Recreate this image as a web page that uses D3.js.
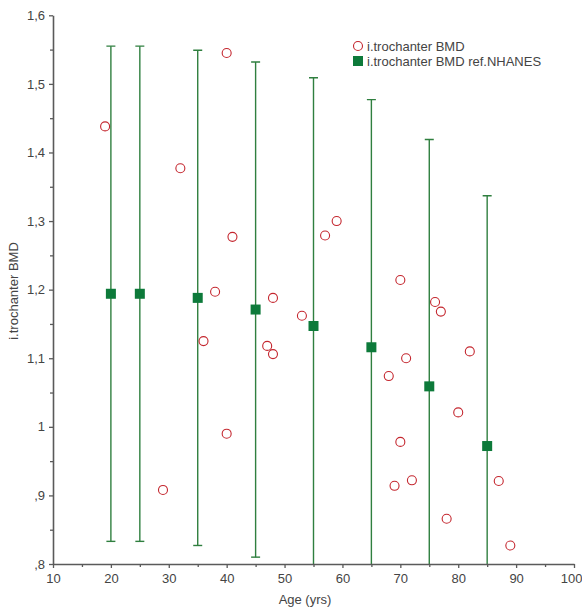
<!DOCTYPE html>
<html>
<head>
<meta charset="utf-8">
<script src="https://cdn.jsdelivr.net/npm/d3@7/dist/d3.min.js"></script>
<style>
  html, body { margin: 0; padding: 0; background: #fff; }
  svg { display: block; font-family: "Liberation Sans", Arial, sans-serif; }
</style>
</head>
<body>
<svg id="chart" width="582" height="609"></svg>
<script>
// Observed intertrochanteric BMD by age
const obsAge = [19, 29, 32, 36, 38, 40, 40, 41, 47, 48, 48, 53, 57, 59,
                68, 69, 70, 70, 71, 72, 76, 77, 78, 80, 82, 87, 89];
const obsBmd = [1.438, 0.908, 1.377, 1.125, 1.197, 1.545, 0.990, 1.277, 1.118, 1.106, 1.188, 1.162, 1.279, 1.300,
                1.074, 0.914, 1.214, 0.978, 1.100, 0.922, 1.182, 1.168, 0.866, 1.021, 1.110, 0.921, 0.827];

// NHANES reference means with +/- SD
const refAge = [20, 25, 35, 45, 55, 65, 75, 85];
const refMean = [1.194, 1.194, 1.188, 1.171, 1.147, 1.116, 1.059, 0.972];
const refSd = [0.361, 0.361, 0.361, 0.361, 0.362, 0.361, 0.360, 0.365];

const xTicks = [10, 20, 30, 40, 50, 60, 70, 80, 90, 100];
const xMinor = [15, 25, 35, 45, 55, 65, 75, 85, 95];
const yTicks = [0.8, 0.9, 1.0, 1.1, 1.2, 1.3, 1.4, 1.5, 1.6];
const yMinor = [0.85, 0.95, 1.05, 1.15, 1.25, 1.35, 1.45, 1.55];

const seriesNames = ["i.trochanter BMD", "i.trochanter BMD ref.NHANES"];
const xTitle = "Age (yrs)";
const yTitle = "i.trochanter BMD";

const svg = d3.select("#chart");
const x = d3.scaleLinear().domain([10, 100]).range([53, 574]);
const y = d3.scaleLinear().domain([0.8, 1.6]).range([564, 15.3]);

const axisColor = "#5a5a5a";
const textColor = "#444";
const green = "#2f7f3f";
const greenFill = "#0d7a3a";
const red = "#c4262e";

const fmt = v => {
  let s = (+v.toFixed(1)).toString();
  return s.replace(/^0/, "").replace(".", ",");
};

svg.append("defs").append("clipPath").attr("id", "plot-clip")
  .append("rect")
  .attr("x", x(10)).attr("y", y(1.6))
  .attr("width", x(100) - x(10)).attr("height", y(0.8) - y(1.6));

// Reference error bars
const bars = svg.append("g").attr("clip-path", "url(#plot-clip)");
refAge.forEach((a, i) => {
  const hi = refMean[i] + refSd[i], lo = refMean[i] - refSd[i];
  const cx = x(a);
  bars.append("line").attr("x1", cx).attr("x2", cx)
    .attr("y1", y(hi)).attr("y2", y(lo))
    .attr("stroke", green).attr("stroke-width", 1.4);
  [hi, lo].forEach(v => {
    bars.append("line").attr("x1", cx - 4.5).attr("x2", cx + 4.5)
      .attr("y1", y(v)).attr("y2", y(v))
      .attr("stroke", green).attr("stroke-width", 1.4);
  });
});

// Observed points
svg.append("g").selectAll("circle")
  .data(obsAge.map((a, i) => [a, obsBmd[i]]))
  .join("circle")
  .attr("cx", d => x(d[0])).attr("cy", d => y(d[1]))
  .attr("r", 4.5)
  .attr("fill", "#fff").attr("stroke", red).attr("stroke-width", 1.1);

// Reference means
svg.append("g").selectAll("rect")
  .data(refAge.map((a, i) => [a, refMean[i]]))
  .join("rect")
  .attr("x", d => x(d[0]) - 5).attr("y", d => y(d[1]) - 5)
  .attr("width", 10).attr("height", 10)
  .attr("fill", greenFill);

// Axes
const xAxis = svg.append("g").attr("transform", `translate(0,${y(0.8)})`)
  .call(d3.axisBottom(x).tickValues(xTicks).tickSize(4).tickSizeOuter(0).tickPadding(6).tickFormat(d3.format("d")));
const xAxisMinor = svg.append("g").attr("transform", `translate(0,${y(0.8)})`)
  .call(d3.axisBottom(x).tickValues(xMinor).tickSize(3).tickSizeOuter(0).tickFormat(""));
const yAxis = svg.append("g").attr("transform", `translate(${x(10)},0)`)
  .call(d3.axisLeft(y).tickValues(yTicks).tickSize(4).tickSizeOuter(0).tickPadding(4).tickFormat(fmt));
const yAxisMinor = svg.append("g").attr("transform", `translate(${x(10)},0)`)
  .call(d3.axisLeft(y).tickValues(yMinor).tickSize(3).tickSizeOuter(0).tickFormat(""));

[xAxis, xAxisMinor, yAxis, yAxisMinor].forEach(g => {
  g.select(".domain").attr("stroke", axisColor).attr("stroke-width", 1.6);
  g.selectAll(".tick line").attr("stroke", axisColor).attr("stroke-width", 1.3);
  g.selectAll(".tick text").attr("fill", textColor)
    .style("font-size", "13px").style("font-family", "'Liberation Sans', Arial, sans-serif");
});
xAxisMinor.select(".domain").remove();
yAxisMinor.select(".domain").remove();

// Keep the last x label inside the canvas edge
xAxis.selectAll(".tick text").filter(d => d === 100)
  .attr("text-anchor", "end").attr("dx", "0.62em");

// Axis titles
svg.append("text").attr("x", 305).attr("y", 604)
  .attr("text-anchor", "middle").attr("fill", textColor)
  .style("font-size", "13px").text(xTitle);
svg.append("text")
  .attr("transform", `translate(18,${291}) rotate(-90)`)
  .attr("text-anchor", "middle").attr("fill", textColor)
  .style("font-size", "13px").text(yTitle);

// Legend
const leg = svg.append("g");
leg.append("circle").attr("cx", 358).attr("cy", 46).attr("r", 4.5)
  .attr("fill", "#fff").attr("stroke", red).attr("stroke-width", 1.1);
leg.append("rect").attr("x", 353).attr("y", 56).attr("width", 10).attr("height", 10)
  .attr("fill", greenFill);
leg.selectAll("text").data(seriesNames).join("text")
  .attr("x", 367).attr("y", (d, i) => 51 + i * 15)
  .attr("fill", textColor).style("font-size", "13px").text(d => d);
</script>
</body>
</html>
